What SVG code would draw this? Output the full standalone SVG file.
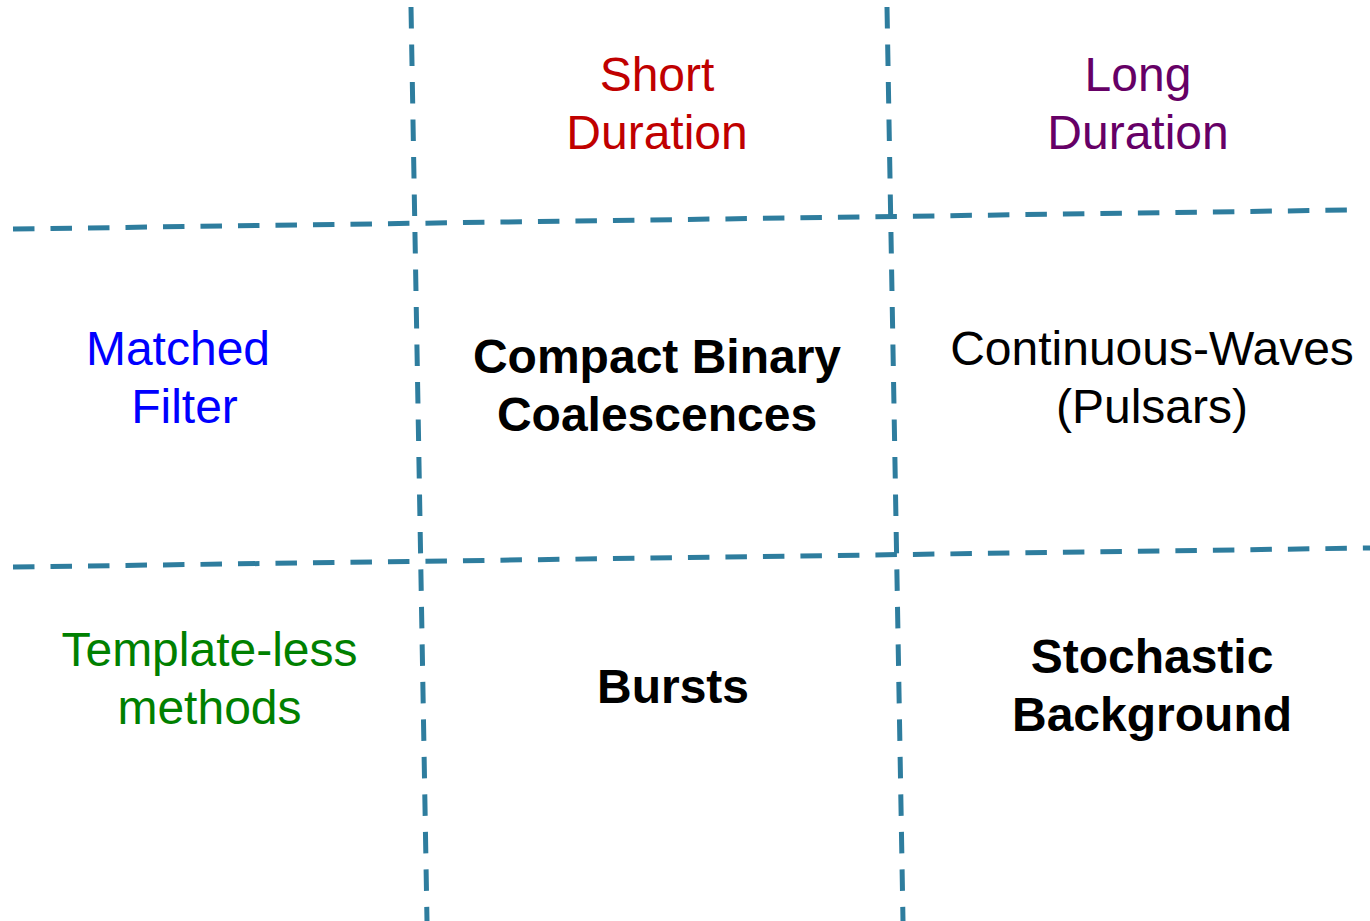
<svg xmlns="http://www.w3.org/2000/svg" width="1370" height="921" viewBox="0 0 1370 921">
<style>
.grid{stroke:#2e7d9e;stroke-width:5;stroke-dasharray:21.5 16;fill:none}
text{font-family:"Liberation Sans",Arial,sans-serif;font-size:48px;text-anchor:middle}
.b{font-weight:bold;fill:#000}
.n{fill:#000}
</style>
<rect width="1370" height="921" fill="#fff"/>
<g id="connectors">
<line class="grid" x1="411" y1="7" x2="427" y2="921"/>
<line class="grid" x1="887" y1="7" x2="903" y2="921"/>
<line class="grid" x1="13" y1="229" x2="1350" y2="210"/>
<line class="grid" x1="13" y1="567" x2="1370" y2="548"/>
</g>
<g id="short-duration"><text x="657" y="91" fill="#c00000">Short</text><text x="657" y="149" fill="#c00000">Duration</text></g>
<g id="long-duration"><text x="1138" y="91" fill="#660066">Long</text><text x="1138" y="149" fill="#660066">Duration</text></g>
<g id="matched-filter"><text x="178" y="365" fill="#0000ff">Matched</text><text x="184.5" y="423" fill="#0000ff">Filter</text></g>
<g id="cbc"><text class="b" x="657" y="373">Compact Binary</text><text class="b" x="657" y="431">Coalescences</text></g>
<g id="cw"><text class="n" x="1152" y="365">Continuous-Waves</text><text class="n" x="1152" y="423">(Pulsars)</text></g>
<g id="template-less"><text x="209.5" y="666" fill="#008000">Template-less</text><text x="209.5" y="724" fill="#008000">methods</text></g>
<g id="bursts"><text class="b" x="673" y="703">Bursts</text></g>
<g id="stochastic"><text class="b" x="1152" y="673">Stochastic</text><text class="b" x="1152" y="731">Background</text></g>
</svg>
